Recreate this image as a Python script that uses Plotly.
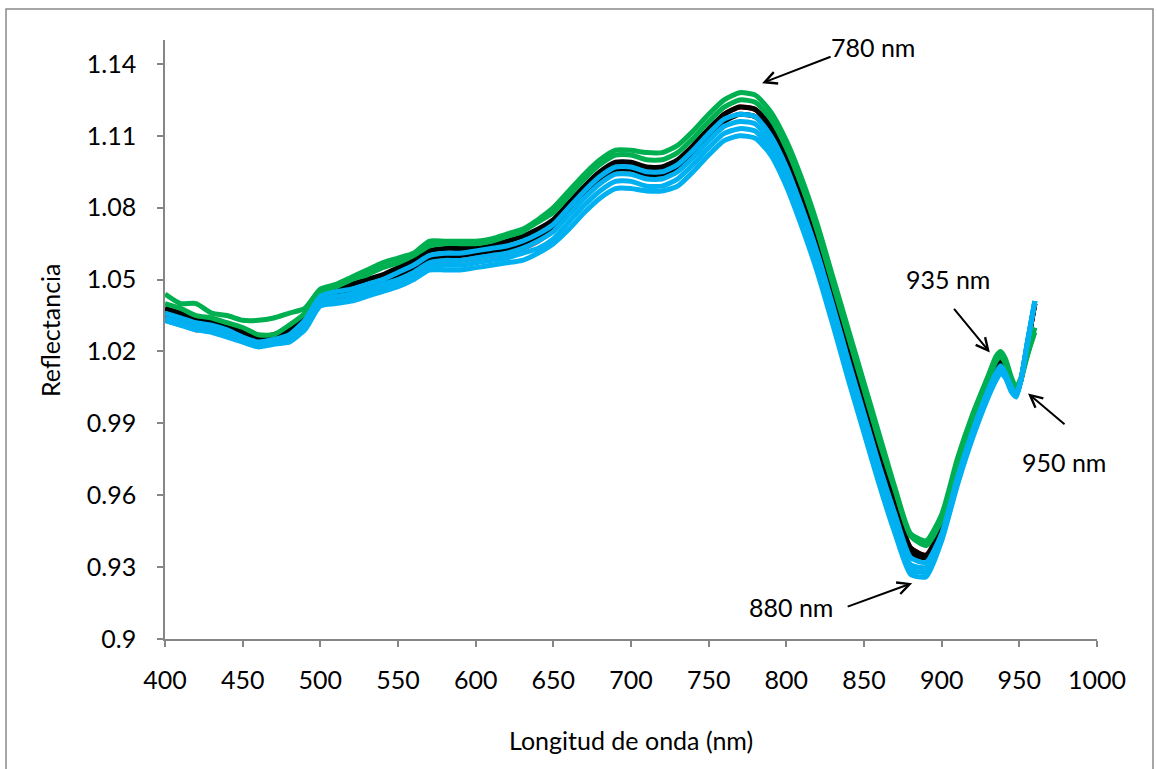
import plotly.graph_objects as go

wavelength = list(range(400, 931, 10)) + [935, 938, 941, 945, 948, 951, 955, 960]

green_1 = [1.044, 1.040, 1.040, 1.036, 1.035, 1.033, 1.033, 1.034, 1.036, 1.038,
           1.046, 1.048, 1.051, 1.054, 1.057, 1.059, 1.061, 1.066, 1.066, 1.066,
           1.066, 1.067, 1.069, 1.071, 1.075, 1.080, 1.087, 1.094, 1.100, 1.104,
           1.104, 1.103, 1.103, 1.106, 1.112, 1.119, 1.125, 1.128, 1.127, 1.120,
           1.108, 1.092, 1.073, 1.051, 1.029, 1.007, 0.985, 0.963, 0.944, 0.941,
           0.952, 0.975, 0.994, 1.010,
           1.018, 1.020, 1.017, 1.009, 1.005, 1.009, 1.018, 1.028]
green_2 = [1.040, 1.038, 1.035, 1.034, 1.032, 1.030, 1.027, 1.027, 1.031, 1.036,
           1.045, 1.047, 1.050, 1.052, 1.055, 1.057, 1.060, 1.064, 1.065, 1.065,
           1.065, 1.066, 1.068, 1.070, 1.074, 1.078, 1.085, 1.092, 1.098, 1.102,
           1.102, 1.100, 1.100, 1.103, 1.109, 1.116, 1.122, 1.125, 1.124, 1.117,
           1.105, 1.089, 1.070, 1.048, 1.026, 1.004, 0.982, 0.962, 0.943, 0.939,
           0.950, 0.973, 0.992, 1.008,
           1.016, 1.018, 1.015, 1.007, 1.004, 1.008, 1.018, 1.030]
black_1 = [1.038, 1.036, 1.033, 1.033, 1.031, 1.029, 1.026, 1.027, 1.030, 1.035,
           1.043, 1.046, 1.048, 1.050, 1.052, 1.055, 1.058, 1.062, 1.063, 1.063,
           1.063, 1.064, 1.066, 1.068, 1.071, 1.075, 1.082, 1.089, 1.095, 1.099,
           1.099, 1.097, 1.097, 1.100, 1.106, 1.113, 1.119, 1.122, 1.121, 1.114,
           1.102, 1.086, 1.067, 1.045, 1.022, 1.000, 0.978, 0.957, 0.938, 0.935,
           0.947, 0.969, 0.989, 1.006,
           1.013, 1.016, 1.013, 1.006, 1.003, 1.008, 1.022, 1.040]
black_2 = [1.036, 1.034, 1.031, 1.032, 1.030, 1.027, 1.024, 1.025, 1.028, 1.033,
           1.041, 1.044, 1.045, 1.047, 1.049, 1.052, 1.055, 1.059, 1.060, 1.060,
           1.061, 1.062, 1.063, 1.065, 1.068, 1.072, 1.079, 1.086, 1.092, 1.096,
           1.096, 1.094, 1.094, 1.097, 1.103, 1.110, 1.116, 1.119, 1.118, 1.111,
           1.099, 1.083, 1.064, 1.042, 1.019, 0.997, 0.975, 0.955, 0.936, 0.934,
           0.946, 0.968, 0.988, 1.005,
           1.012, 1.015, 1.012, 1.005, 1.002, 1.008, 1.022, 1.040]
red_1 = [1.035, 1.032, 1.029, 1.030, 1.029, 1.027, 1.025, 1.026, 1.028, 1.031,
         1.040, 1.042, 1.044, 1.046, 1.048, 1.051, 1.053, 1.057, 1.058, 1.058,
         1.059, 1.060, 1.061, 1.063, 1.066, 1.071, 1.078, 1.085, 1.092, 1.097,
         1.098, 1.096, 1.096, 1.099, 1.105, 1.112, 1.119, 1.122, 1.121, 1.114,
         1.102, 1.086, 1.067, 1.045, 1.022, 1.000, 0.978, 0.957, 0.938, 0.935,
         0.947, 0.970, 0.990, 1.007,
         1.013, 1.015, 1.012, 1.006, 1.004, 1.008, 1.022, 1.040]
blue_1 = [1.036, 1.034, 1.032, 1.031, 1.029, 1.026, 1.024, 1.025, 1.027, 1.033,
          1.043, 1.045, 1.046, 1.048, 1.050, 1.053, 1.056, 1.060, 1.061, 1.061,
          1.062, 1.063, 1.064, 1.066, 1.069, 1.073, 1.080, 1.087, 1.093, 1.097,
          1.097, 1.095, 1.095, 1.098, 1.104, 1.111, 1.117, 1.119, 1.118, 1.110,
          1.097, 1.080, 1.061, 1.039, 1.016, 0.994, 0.972, 0.952, 0.934, 0.932,
          0.944, 0.967, 0.987, 1.004,
          1.011, 1.014, 1.011, 1.005, 1.002, 1.008, 1.023, 1.041]
blue_2 = [1.034, 1.032, 1.030, 1.030, 1.028, 1.025, 1.023, 1.024, 1.025, 1.030,
          1.041, 1.043, 1.044, 1.046, 1.048, 1.050, 1.053, 1.057, 1.058, 1.058,
          1.059, 1.060, 1.061, 1.063, 1.066, 1.070, 1.077, 1.084, 1.090, 1.094,
          1.094, 1.092, 1.092, 1.095, 1.101, 1.108, 1.114, 1.116, 1.115, 1.107,
          1.094, 1.077, 1.058, 1.036, 1.013, 0.991, 0.969, 0.949, 0.931, 0.930,
          0.943, 0.966, 0.986, 1.003,
          1.010, 1.013, 1.010, 1.004, 1.002, 1.008, 1.023, 1.041]
blue_3 = [1.033, 1.031, 1.030, 1.029, 1.027, 1.024, 1.022, 1.024, 1.024, 1.030,
          1.040, 1.041, 1.042, 1.044, 1.046, 1.048, 1.051, 1.055, 1.056, 1.056,
          1.057, 1.058, 1.059, 1.061, 1.063, 1.067, 1.074, 1.081, 1.087, 1.091,
          1.091, 1.089, 1.089, 1.092, 1.098, 1.105, 1.111, 1.113, 1.112, 1.104,
          1.091, 1.074, 1.055, 1.033, 1.010, 0.988, 0.966, 0.946, 0.929, 0.928,
          0.942, 0.965, 0.985, 1.002,
          1.009, 1.012, 1.010, 1.004, 1.002, 1.008, 1.023, 1.041]
blue_4 = [1.033, 1.031, 1.029, 1.028, 1.026, 1.024, 1.022, 1.023, 1.024, 1.029,
          1.039, 1.040, 1.041, 1.043, 1.045, 1.047, 1.050, 1.054, 1.054, 1.054,
          1.055, 1.056, 1.057, 1.058, 1.061, 1.065, 1.071, 1.078, 1.084, 1.088,
          1.088, 1.087, 1.087, 1.089, 1.095, 1.102, 1.108, 1.110, 1.109, 1.102,
          1.089, 1.072, 1.053, 1.031, 1.008, 0.986, 0.964, 0.944, 0.927, 0.926,
          0.941, 0.964, 0.984, 1.001,
          1.008, 1.011, 1.009, 1.003, 1.001, 1.008, 1.023, 1.041]

x_ticks = list(range(400, 1001, 50))
y_ticks = [0.9, 0.93, 0.96, 0.99, 1.02, 1.05, 1.08, 1.11, 1.14]
y_tick_text = ["0.9", "0.93", "0.96", "0.99", "1.02", "1.05", "1.08", "1.11", "1.14"]

GREEN = "#00B050"
BLACK = "#000000"
RED = "#FF0000"
BLUE = "#00B0F0"

series = [
    (red_1, RED), (black_2, BLACK), (black_1, BLACK),
    (green_2, GREEN), (green_1, GREEN),
    (blue_1, BLUE), (blue_2, BLUE), (blue_3, BLUE), (blue_4, BLUE),
]

fig = go.Figure()
for vals, col in series:
    fig.add_trace(go.Scatter(x=wavelength, y=vals, mode="lines",
                             line=dict(color=col, width=5, shape="spline", smoothing=0.6),
                             showlegend=False, hoverinfo="skip"))

FONT = "Lato, 'Open Sans', sans-serif"
AXC = "#868686"
FS = 25

fig.update_layout(
    width=1157, height=769,
    margin=dict(l=165, r=60, t=40, b=130),
    paper_bgcolor="white", plot_bgcolor="white",
    font=dict(family=FONT, size=FS, color="black"),
    showlegend=False,
    xaxis=dict(range=[400, 1000], tickvals=x_ticks, showgrid=False, zeroline=False,
               showline=True, linecolor=AXC, linewidth=1.5, automargin=False,
               ticks="outside", ticklen=6, tickcolor=AXC, tickwidth=1.5,
               ticklabelstandoff=12, tickfont=dict(size=FS)),
    yaxis=dict(range=[0.9, 1.15], tickvals=y_ticks, ticktext=y_tick_text,
               showgrid=False, zeroline=False, automargin=False,
               showline=True, linecolor=AXC, linewidth=1.5,
               ticks="outside", ticklen=6, tickcolor=AXC, tickwidth=1.5,
               ticklabelstandoff=16, tickfont=dict(size=FS)),
)

# chart border
fig.add_shape(type="rect", xref="paper", yref="paper",
              x0=(6 - 165) / 932, x1=(1153 - 165) / 932,
              y0=(639 - 775) / 599, y1=(639 - 9) / 599,
              line=dict(color="#898989", width=1.5), layer="below")

# axis titles
fig.add_annotation(text="Longitud de onda (nm)", xref="paper", yref="paper",
                   x=0.5, y=(639 - 740) / 599, showarrow=False,
                   font=dict(size=FS), xanchor="center", yanchor="middle")
fig.add_annotation(text="Reflectancia", xref="paper", yref="paper",
                   x=(50 - 165) / 932, y=(639 - 330) / 599, showarrow=False,
                   textangle=-90, font=dict(size=FS), xanchor="center", yanchor="middle")

# labels with arrows
labels = [
    ("780 nm", (873, 47)),
    ("935 nm", (948, 279)),
    ("950 nm", (1064, 462)),
    ("880 nm", (791, 607)),
]
for txt, (px, py) in labels:
    fig.add_annotation(text=txt, xref="paper", yref="paper",
                       x=(px - 165) / 932, y=(639 - py) / 599, showarrow=False,
                       font=dict(size=FS), xanchor="center", yanchor="middle")

arrows = [
    (784.4, 1.132, 70, -27),
    (931.0, 1.0196, -37, -45),
    (955.6, 1.0025, 38, 32),
    (881.0, 0.9233, -66, 24),
]
for x, y, ax, ay in arrows:
    fig.add_annotation(x=x, y=y, xref="x", yref="y", ax=ax, ay=ay, text="",
                       showarrow=True, arrowhead=5, arrowsize=1.2, arrowwidth=2,
                       arrowcolor="black")

fig.write_html("out.html", config={"displayModeBar": False},
               post_script="document.body.style.margin='0';document.body.style.overflow='hidden';")
